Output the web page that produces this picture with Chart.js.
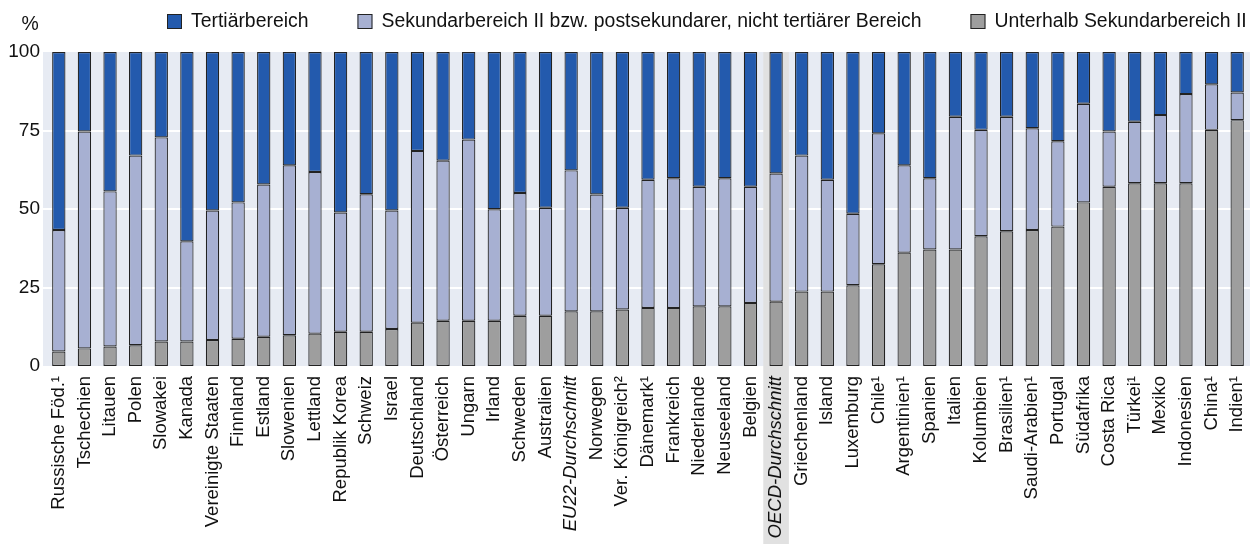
<!DOCTYPE html>
<html>
<head>
<meta charset="utf-8">
<script src="https://cdn.jsdelivr.net/npm/chart.js@4.4.1/dist/chart.umd.min.js"></script>
<style>
  html, body { margin: 0; padding: 0; background: #fff; overflow: hidden; }
  #wrap { width: 1250px; height: 544px; position: relative; }
</style>
</head>
<body>
<div id="wrap"><canvas id="chart"></canvas></div>
<script>
const countries = [
  'Russische Föd.¹', 'Tschechien', 'Litauen', 'Polen', 'Slowakei', 'Kanada', 'Vereinigte Staaten',
  'Finnland', 'Estland', 'Slowenien', 'Lettland', 'Republik Korea', 'Schweiz', 'Israel',
  'Deutschland', 'Österreich', 'Ungarn', 'Irland', 'Schweden', 'Australien', 'EU22-Durchschnitt',
  'Norwegen', 'Ver. Königreich²', 'Dänemark¹', 'Frankreich', 'Niederlande', 'Neuseeland', 'Belgien',
  'OECD-Durchschnitt', 'Griechenland', 'Island', 'Luxemburg', 'Chile¹', 'Argentinien¹', 'Spanien',
  'Italien', 'Kolumbien', 'Brasilien¹', 'Saudi-Arabien¹', 'Portugal', 'Südafrika', 'Costa Rica',
  'Türkei¹', 'Mexiko', 'Indonesien', 'China¹', 'Indien¹'
];

// Unterhalb Sekundarbereich II
const unterhalb = [
  4.6, 5.6, 6.2, 6.6, 7.8, 7.8, 8.3, 8.7, 9.3, 9.8, 10.3, 10.9, 10.9, 11.8,
  13.8, 14.4, 14.4, 14.4, 16.0, 16.0, 17.4, 17.4, 18.0, 18.5, 18.5, 19.0, 19.0, 20.1,
  20.5, 23.7, 23.7, 25.7, 32.4, 36.1, 37.1, 37.1, 41.3, 42.9, 43.3, 44.4, 52.1, 57.1,
  58.2, 58.2, 58.2, 75.2, 78.3
];

// Sekundarbereich II bzw. postsekundarer, nicht tertiärer Bereich
const sekundar = [
  38.7, 69.1, 49.4, 60.4, 65.0, 31.9, 41.2, 43.4, 48.5, 54.1, 51.5, 38.0, 43.8, 37.7,
  54.7, 51.0, 57.7, 35.5, 39.1, 34.4, 44.9, 37.2, 32.4, 40.8, 41.3, 38.1, 40.8, 37.0,
  40.8, 43.3, 35.6, 22.8, 41.7, 27.8, 22.7, 42.3, 33.9, 36.5, 32.4, 27.2, 31.4, 17.6,
  19.6, 21.7, 28.4, 14.5, 8.8
];

// Tertiärbereich
const tertiaer = [
  56.7, 25.3, 44.4, 33.0, 27.2, 60.3, 50.5, 47.9, 42.2, 36.1, 38.2, 51.1, 45.3, 50.5,
  31.5, 34.6, 27.9, 50.1, 44.9, 49.6, 37.7, 45.4, 49.6, 40.7, 40.2, 42.9, 40.2, 42.9,
  38.7, 33.0, 40.7, 51.5, 25.9, 36.1, 40.2, 20.6, 24.8, 20.6, 24.3, 28.4, 16.5, 25.3,
  22.2, 20.1, 13.4, 10.3, 12.9
];

const yTicks = [0, 25, 50, 75, 100];
const highlighted = 'OECD-Durchschnitt';
const italicLabels = ['EU22-Durchschnitt', 'OECD-Durchschnitt'];

const FONT = '"Liberation Sans", Arial, sans-serif';
const BORDER = '#222222';

// Hintergrund, weisse Gitterlinien, grau hinterlegte OECD-Spalte
const backgroundPlugin = {
    id: 'plotBackground',
    beforeDraw(chart) {
        const { ctx, chartArea: a, scales: { x, y } } = chart;
        ctx.save();
        ctx.fillStyle = '#e7ebf3';
        ctx.fillRect(a.left - 3, a.top, a.right - a.left + 3, a.bottom - a.top);

        ctx.strokeStyle = '#ffffff';
        ctx.lineWidth = 2;
        yTicks.slice(1, -1).forEach(v => {
            const py = Math.round(y.getPixelForValue(v));
            ctx.beginPath();
            ctx.moveTo(a.left - 3, py);
            ctx.lineTo(a.right, py);
            ctx.stroke();
        });

        const i = countries.indexOf(highlighted);
        const half = (x.getPixelForValue(1) - x.getPixelForValue(0)) / 2;
        const cx = x.getPixelForValue(i);
        ctx.fillStyle = '#e1e1e1';
        ctx.fillRect(cx - half, a.top, half * 2, chart.height - a.top);
        ctx.restore();
    }
};

// Legende oben + "%" ueber der y-Achse
const legendPlugin = {
    id: 'topLegend',
    afterDraw(chart) {
        const { ctx } = chart;
        ctx.save();
        ctx.font = '19.4px ' + FONT;
        ctx.textBaseline = 'middle';
        ctx.fillStyle = '#111';
        ctx.textAlign = 'center';
        ctx.fillText('%', 30, 25);

        ctx.textAlign = 'left';
        let x = 167;
        const yBox = 14;
        chart.data.datasets.slice().reverse().forEach(ds => {
            ctx.fillStyle = ds.backgroundColor;
            ctx.fillRect(x, yBox, 15, 15);
            ctx.strokeStyle = BORDER;
            ctx.lineWidth = 1;
            ctx.strokeRect(x + 0.5, yBox + 0.5, 14, 14);
            ctx.fillStyle = '#111';
            ctx.fillText(ds.label, x + 24, yBox + 8);
            x += 24 + ctx.measureText(ds.label).width + 49;
        });
        ctx.restore();
    }
};

const ctx = document.getElementById('chart').getContext('2d');

new Chart(ctx, {
    type: 'bar',
    plugins: [backgroundPlugin, legendPlugin],
    data: {
        labels: countries,
        datasets: [
            { label: 'Unterhalb Sekundarbereich II', data: unterhalb, backgroundColor: '#9e9e9e' },
            { label: 'Sekundarbereich II bzw. postsekundarer, nicht tertiärer Bereich', data: sekundar, backgroundColor: '#a7b0d2' },
            { label: 'Tertiärbereich', data: tertiaer, backgroundColor: '#235aad' }
        ]
    },
    options: {
        responsive: true,
        maintainAspectRatio: false,
        animation: false,
        layout: { padding: { top: 52, right: 0, left: 0, bottom: 0 } },
        datasets: {
            bar: {
                borderColor: BORDER,
                borderWidth: 1.2,
                borderSkipped: false,
                barPercentage: 0.52,
                categoryPercentage: 1
            }
        },
        plugins: {
            legend: { display: false },
            tooltip: { enabled: false }
        },
        scales: {
            x: {
                stacked: true,
                grid: { display: false, drawTicks: false },
                border: { display: false },
                afterFit: (axis) => {
                    axis.height = 178;
                    axis.paddingLeft = 0;
                    axis.paddingRight = 0;
                },
                ticks: {
                    autoSkip: false,
                    minRotation: 90,
                    maxRotation: 90,
                    padding: 10,
                    color: '#111',
                    font: (c) => ({
                        family: FONT,
                        size: 18.5,
                        style: italicLabels.includes(countries[c.index]) ? 'italic' : 'normal'
                    })
                }
            },
            y: {
                stacked: true,
                min: 0,
                max: 100,
                grid: { display: false, drawTicks: false },
                border: { display: false },
                afterFit: (axis) => { axis.width = 46; },
                afterBuildTicks: (axis) => { axis.ticks = yTicks.map(v => ({ value: v })); },
                ticks: {
                    padding: 6,
                    color: '#111',
                    font: { family: FONT, size: 19 }
                }
            }
        }
    }
});
</script>
</body>
</html>
